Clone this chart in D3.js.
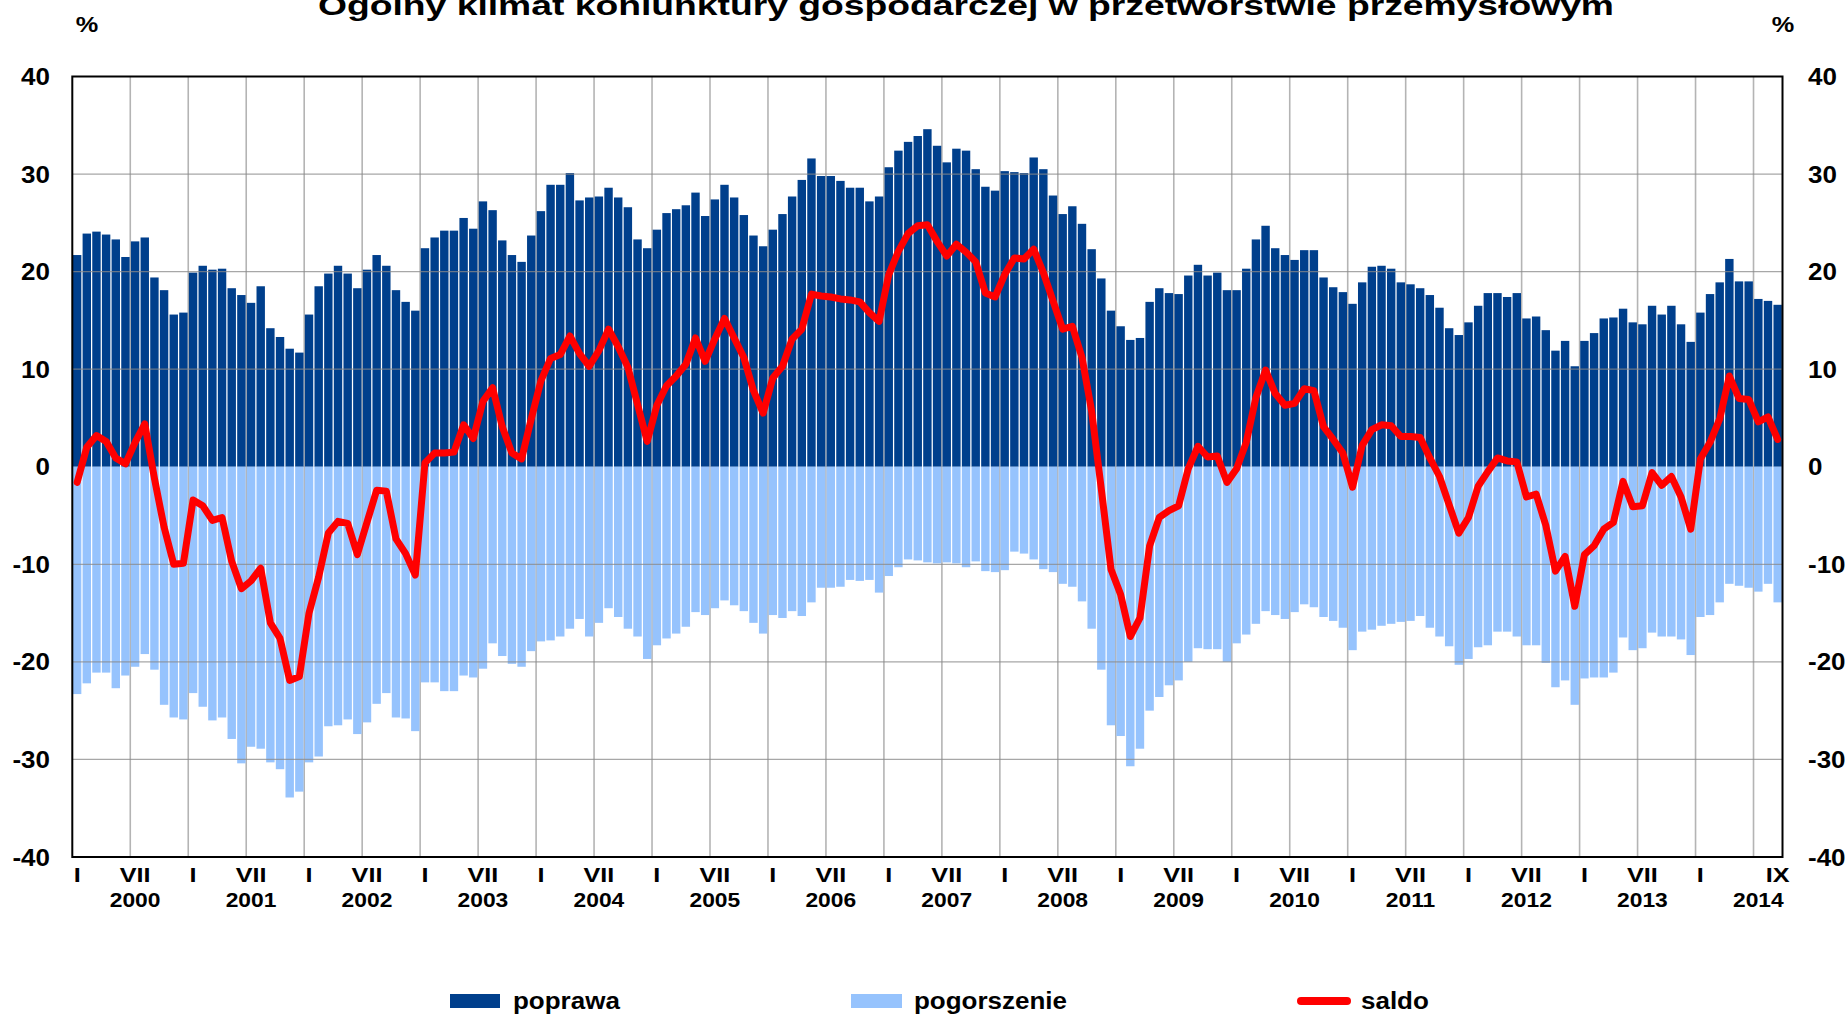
<!DOCTYPE html>
<html>
<head>
<meta charset="utf-8">
<script src="https://cdn.jsdelivr.net/npm/d3@7"></script>
<style>
  body { margin: 0; background: #fff; }
  svg text { font-family: "Liberation Sans", Arial, sans-serif; font-weight: bold; fill: #000; }
</style>
</head>
<body>
<svg id="chart" width="1847" height="1016"></svg>
<script>
// monthly values, I 2000 - IX 2014
var poprawa = [
  21.7, 23.9, 24.1, 23.8, 23.3, 21.5, 23.1, 23.5, 19.4, 18.1, 15.6, 15.8,
  19.9, 20.6, 20.2, 20.3, 18.3, 17.6, 16.8, 18.5, 14.2, 13.3, 12.1, 11.7,
  15.6, 18.5, 19.8, 20.6, 19.8, 18.3, 20.2, 21.7, 20.6, 18.1, 16.9, 16.0,
  22.4, 23.5, 24.2, 24.2, 25.5, 24.4, 27.2, 26.3, 23.2, 21.7, 21.0, 23.7,
  26.2, 28.9, 28.9, 30.1, 27.3, 27.6, 27.7, 28.6, 27.6, 26.6, 23.3, 22.4,
  24.3, 26.0, 26.4, 26.8, 28.1, 25.7, 27.4, 28.9, 27.6, 25.8, 23.7, 22.6,
  24.3, 25.9, 27.7, 29.4, 31.6, 29.8, 29.8, 29.3, 28.6, 28.6, 27.2, 27.7,
  30.7, 32.4, 33.3, 33.9, 34.6, 32.9, 31.2, 32.6, 32.4, 30.5, 28.7, 28.3,
  30.3, 30.2, 30.1, 31.7, 30.5, 27.8, 25.9, 26.7, 24.9, 22.3, 19.3, 16.0,
  14.4, 13.0, 13.2, 16.9, 18.3, 17.8, 17.7, 19.6, 20.7, 19.6, 19.9, 18.1,
  18.1, 20.3, 23.3, 24.7, 22.4, 21.7, 21.2, 22.2, 22.2, 19.4, 18.4, 17.9,
  16.7, 18.9, 20.5, 20.6, 20.3, 18.9, 18.7, 18.3, 17.6, 16.3, 14.2, 13.5,
  14.8, 16.5, 17.8, 17.8, 17.4, 17.8, 15.2, 15.4, 14.0, 11.9, 12.9, 10.3,
  12.9, 13.7, 15.2, 15.3, 16.2, 14.8, 14.6, 16.5, 15.6, 16.5, 14.6, 12.8,
  15.8, 17.7, 18.9, 21.3, 19.0, 19.0, 17.2, 17.0, 16.6
];
var pogorszenie = [
  -23.3, -22.2, -21.1, -21.1, -22.7, -21.4, -20.5, -19.2, -20.8, -24.4, -25.7, -25.9,
  -23.2, -24.6, -26.0, -25.7, -27.9, -30.4, -28.7, -28.9, -30.3, -31.0, -33.9, -33.3,
  -30.3, -29.7, -26.6, -26.5, -25.9, -27.4, -26.2, -24.3, -23.2, -25.7, -25.8, -27.1,
  -22.1, -22.1, -23.0, -23.0, -21.4, -21.6, -20.7, -18.1, -19.4, -20.2, -20.5, -18.9,
  -17.9, -17.8, -17.4, -16.6, -15.6, -17.4, -16.0, -14.5, -15.4, -16.6, -17.4, -19.7,
  -18.3, -17.6, -17.1, -16.4, -14.9, -15.2, -14.5, -13.7, -14.2, -14.8, -16.0, -17.1,
  -15.2, -15.5, -14.8, -15.3, -13.9, -12.4, -12.4, -12.3, -11.6, -11.7, -11.6, -12.9,
  -11.2, -10.3, -9.5, -9.6, -9.8, -9.9, -9.8, -9.9, -10.3, -9.7, -10.7, -10.8,
  -10.6, -8.7, -8.9, -9.5, -10.5, -10.8, -12.0, -12.3, -13.8, -16.6, -20.8, -26.5,
  -27.6, -30.7, -28.9, -25.0, -23.6, -22.4, -21.9, -20.0, -18.6, -18.7, -18.7, -20.0,
  -18.1, -17.2, -16.1, -14.8, -15.2, -15.6, -14.9, -14.1, -14.4, -15.4, -15.8, -16.5,
  -18.8, -16.9, -16.7, -16.3, -16.1, -15.9, -15.8, -15.3, -16.5, -17.4, -18.4, -20.3,
  -19.7, -18.5, -18.3, -16.9, -16.9, -17.4, -18.3, -18.3, -20.1, -22.6, -21.9, -24.4,
  -21.7, -21.6, -21.6, -21.1, -17.5, -18.8, -18.6, -17.0, -17.4, -17.4, -17.7, -19.3,
  -15.4, -15.2, -13.9, -12.0, -12.2, -12.4, -12.8, -12.0, -13.9
];
var saldo = [
  -1.6, 2.0, 3.2, 2.6, 0.9, 0.3, 2.5, 4.4, -1.2, -6.2, -10.0, -9.9,
  -3.4, -4.0, -5.5, -5.2, -9.7, -12.5, -11.7, -10.4, -16.0, -17.6, -21.9, -21.5,
  -15.0, -11.3, -6.8, -5.6, -5.8, -9.0, -5.7, -2.4, -2.5, -7.4, -8.9, -11.1,
  0.4, 1.4, 1.4, 1.5, 4.3, 2.9, 6.7, 8.1, 4.1, 1.4, 0.8, 4.9,
  8.8, 11.1, 11.5, 13.4, 11.6, 10.3, 11.9, 14.1, 12.3, 10.2, 6.4, 2.6,
  6.3, 8.3, 9.3, 10.5, 13.2, 10.8, 13.1, 15.2, 13.2, 11.2, 7.8, 5.5,
  9.1, 10.3, 13.1, 14.1, 17.7, 17.5, 17.4, 17.2, 17.1, 16.9, 15.8, 14.9,
  19.7, 22.1, 23.9, 24.7, 24.8, 23.1, 21.6, 22.8, 22.0, 21.0, 17.8, 17.4,
  19.7, 21.4, 21.3, 22.3, 19.9, 17.0, 14.1, 14.4, 11.2, 5.7, -2.3, -10.5,
  -13.1, -17.4, -15.5, -8.1, -5.2, -4.5, -4.0, -0.2, 2.1, 1.0, 1.1, -1.6,
  -0.2, 2.5, 7.1, 9.9, 7.5, 6.3, 6.5, 8.0, 7.8, 4.1, 2.8, 1.4,
  -2.1, 2.2, 3.8, 4.3, 4.2, 3.1, 3.1, 3.0, 0.9, -1.0, -3.9, -6.8,
  -5.2, -2.0, -0.5, 0.9, 0.6, 0.5, -3.1, -2.8, -6.0, -10.7, -9.2, -14.3,
  -9.0, -8.1, -6.4, -5.7, -1.5, -4.1, -4.0, -0.6, -1.9, -1.0, -3.1, -6.4,
  0.8, 2.5, 4.9, 9.3, 7.0, 6.9, 4.6, 5.1, 2.8
];
var years = [2000, 2001, 2002, 2003, 2004, 2005, 2006, 2007, 2008, 2009, 2010, 2011, 2012, 2013, 2014];
var yTicks = [-40, -30, -20, -10, 0, 10, 20, 30, 40];
var seriesNames = ['poprawa', 'pogorszenie', 'saldo'];
var title = 'Ogólny klimat koniunktury gospodarczej w przetwórstwie przemysłowym';

var colDark = '#003f8c';
var colLight = '#96c3fd';
var colLine = '#ff0000';

// plot box (window.top is read-only, so own names here)
var plotL = 72.3, plotR = 1782.5, plotT = 76.5, plotB = 857;
var months = d3.range(poprawa.length);

var svg = d3.select('#chart');

var x = d3.scaleBand()
  .domain(months)
  .range([plotL, plotR])
  .paddingInner(0.13)
  .paddingOuter(0.065);
var y = d3.scaleLinear().domain([-40, 40]).range([plotB, plotT]);

function cx(i) { return x(i) + x.bandwidth() / 2; }
function edge(i) { return plotL + i * (plotR - plotL) / months.length; }

// text squeezed like the source picture
function label(str, px, py, size, sx, anchor) {
  return svg.append('text')
    .attr('transform', 'translate(' + px + ',' + py + ') scale(' + sx + ',1)')
    .attr('font-size', size)
    .attr('text-anchor', anchor || 'middle')
    .text(str);
}

// vertical gridlines every half year
var vLines = d3.range(6, months.length, 6);
svg.append('g').selectAll('line')
  .data(vLines)
  .enter().append('line')
  .attr('x1', function(d) { return edge(d); })
  .attr('x2', function(d) { return edge(d); })
  .attr('y1', plotT).attr('y2', plotB)
  .attr('stroke', '#b4b4b4')
  .attr('stroke-width', 1.6);

// bars
svg.append('g').selectAll('rect')
  .data(months)
  .enter().append('rect')
  .attr('x', function(i) { return x(i); })
  .attr('width', x.bandwidth())
  .attr('y', function(i) { return y(poprawa[i]); })
  .attr('height', function(i) { return y(0) - y(poprawa[i]); })
  .attr('fill', colDark);

svg.append('g').selectAll('rect')
  .data(months)
  .enter().append('rect')
  .attr('x', function(i) { return x(i); })
  .attr('width', x.bandwidth())
  .attr('y', y(0))
  .attr('height', function(i) { return y(pogorszenie[i]) - y(0); })
  .attr('fill', colLight);

// horizontal gridlines (drawn over the bars, as in the source)
svg.append('g').selectAll('line')
  .data(yTicks.filter(function(d) { return d !== 40 && d !== -40 && d !== 0; }))
  .enter().append('line')
  .attr('x1', plotL).attr('x2', plotR)
  .attr('y1', function(d) { return y(d); })
  .attr('y2', function(d) { return y(d); })
  .attr('stroke', '#8a8a8a')
  .attr('stroke-opacity', 0.75)
  .attr('stroke-width', 1.2);

// frame
svg.append('rect')
  .attr('x', plotL).attr('y', plotT)
  .attr('width', plotR - plotL).attr('height', plotB - plotT)
  .attr('fill', 'none')
  .attr('stroke', '#000')
  .attr('stroke-width', 2);

// saldo line
var line = d3.line()
  .x(function(i) { return cx(i); })
  .y(function(i) { return y(saldo[i]); });

svg.append('path')
  .datum(months)
  .attr('d', line)
  .attr('fill', 'none')
  .attr('stroke', colLine)
  .attr('stroke-width', 7)
  .attr('stroke-linejoin', 'round')
  .attr('stroke-linecap', 'round');

// y axis labels on both sides
yTicks.forEach(function(t) {
  label(t, 50, y(t) + 8.5, 23, 1.13, 'end');
  label(t, 1808, y(t) + 8.5, 23, 1.13, 'start');
});
label('%', 87, 32, 22, 1.15);
label('%', 1783, 32, 22, 1.15);

// month labels
months.forEach(function(i) {
  var m = i % 12;
  if (m === 0) label('I', cx(i), 882, 21, 1.2);
  else if (m === 6 && i < 168) label('VII', cx(i), 882, 21, 1.2);
});
label('IX', cx(months.length - 1), 882, 21, 1.2);

// year labels
years.forEach(function(yr, k) {
  var i = k * 12 + 6;
  if (i >= months.length) i = months.length - 1;
  label(yr, cx(i), 907, 19.5, 1.17);
});

// title
svg.append('text')
  .attr('x', 966).attr('y', 15)
  .attr('font-size', 27)
  .attr('text-anchor', 'middle')
  .attr('textLength', 1296)
  .attr('lengthAdjust', 'spacingAndGlyphs')
  .text(title);

// legend
var lg = svg.append('g');
lg.append('rect').attr('x', 450).attr('y', 994).attr('width', 50).attr('height', 14).attr('fill', colDark);
label(seriesNames[0], 513, 1009, 23, 1.13, 'start');
lg.append('rect').attr('x', 851).attr('y', 994).attr('width', 51).attr('height', 14).attr('fill', colLight);
label(seriesNames[1], 914, 1009, 23, 1.13, 'start');
lg.append('line').attr('x1', 1301).attr('x2', 1347).attr('y1', 1001).attr('y2', 1001)
  .attr('stroke', colLine).attr('stroke-width', 8).attr('stroke-linecap', 'round');
label(seriesNames[2], 1361, 1009, 23, 1.13, 'start');
</script>
</body>
</html>
